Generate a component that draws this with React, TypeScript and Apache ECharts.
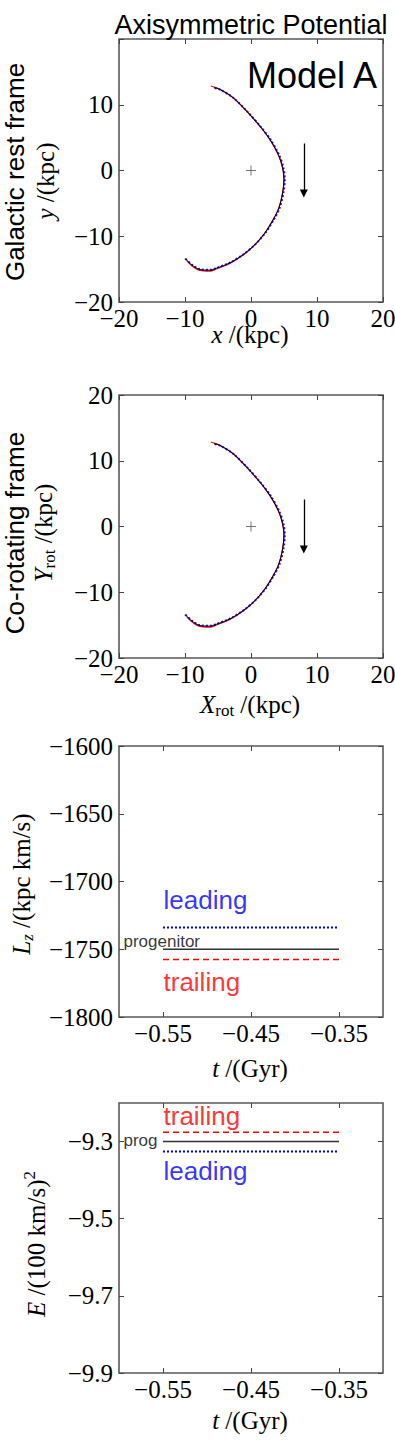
import React, { useEffect, useRef } from 'react';
import * as echarts from 'echarts';

// ---------- data ----------
// stream track in the x-y plane (kpc)
const orbitX = [-5.6, -4.7, -2.68, -0.65, 1.36, 2.88, 4.14, 4.8, 5.0, 4.8, 4.24, 3.38, 2.12, 0.61, -1.16, -3.18, -5.2, -6.21, -7.73, -8.99, -9.95];
const orbitY = [12.6, 12.32, 11.05, 9.02, 6.74, 4.71, 2.43, 0.41, -1.37, -3.39, -5.68, -7.45, -9.48, -11.25, -12.78, -14.04, -14.85, -15.16, -15.06, -14.35, -13.43];
const leadingX = [-5.5, -4.6, -2.6, -0.55, 1.45, 2.98, 4.25, 4.92, 5.12, 4.92, 4.35, 3.48, 2.2, 0.68, -1.1, -3.12, -5.15, -6.18, -7.7, -8.98, -10.0];
const leadingY = [12.55, 12.25, 10.98, 8.95, 6.68, 4.66, 2.4, 0.41, -1.37, -3.38, -5.66, -7.42, -9.45, -11.2, -12.72, -13.98, -14.8, -15.1, -15.02, -14.3, -13.35];
const trailingX = [-6.1, -4.7, -2.7, -0.66, 1.35, 2.87, 4.12, 4.78, 4.98, 4.78, 4.22, 3.36, 2.1, 0.58, -1.2, -3.22, -5.25, -6.25, -7.75, -8.95, -9.7];
const trailingY = [12.85, 12.35, 11.07, 9.03, 6.74, 4.7, 2.42, 0.4, -1.37, -3.39, -5.69, -7.47, -9.51, -11.3, -12.86, -14.14, -14.98, -15.3, -15.2, -14.5, -13.75];
const centreX = [0];
const centreY = [0];
const arrowX = [8, 8];
const arrowY = [4.1, -3.5];

// conserved quantities vs time
const tPoints = [-0.55, -0.45, -0.35];
const lzProgenitor = [-1750, -1750, -1750];
const lzLeading = [-1734, -1734, -1734];
const lzTrailing = [-1757.5, -1757.5, -1757.5];
const eProgenitor = [-9.3, -9.3, -9.3];
const eLeading = [-9.326, -9.326, -9.326];
const eTrailing = [-9.276, -9.276, -9.276];

// tick values
const xyTicks = [-20, -10, 0, 10, 20];
const y1Labels = [-20, -10, 0, 10];
const tTicks = [-0.55, -0.45, -0.35];
const lzTicks = [-1800, -1750, -1700, -1650, -1600];
const eTicks = [-9.9, -9.7, -9.5, -9.3];

// annotation texts
const lzNotes = [
  { text: 'leading', t: -0.55, v: -1714, color: '#0000ff', size: 26 },
  { text: 'progenitor', t: -0.5955, v: -1744.6, color: '#000000', size: 17 },
  { text: 'trailing', t: -0.55, v: -1774.2, color: '#ff0000', size: 26 },
];
const eNotes = [
  { text: 'trailing', t: -0.55, v: -9.234, color: '#ff0000', size: 26 },
  { text: 'prog', t: -0.5955, v: -9.2985, color: '#000000', size: 17 },
  { text: 'leading', t: -0.55, v: -9.3755, color: '#0000ff', size: 26 },
];

// ---------- styling ----------
const serif = 'Liberation Serif';
const sans = 'Liberation Sans';
const minus = (s: string) => s.replace('-', '\u2212');
const zip = (a: number[], b: number[]) => a.map((v, i) => [v, b[i]]);

function axisPair(kind: 'x' | 'y', grid: number, min: number, max: number, ticks: number[], labels: number[], fmt: (v: number) => string) {
  const base: any = {
    type: 'value', gridIndex: grid, min, max,
    axisLine: { show: false, onZero: false },
    splitLine: { show: false },
    axisTick: { show: true, inside: true, length: 5, lineStyle: { color: '#444', width: 1 }, customValues: ticks },
  };
  const main = {
    ...base,
    position: kind === 'x' ? 'bottom' : 'left',
    axisLabel: {
      show: true, customValues: labels, formatter: (v: number) => fmt(v),
      margin: kind === 'x' ? 4 : 6, fontFamily: serif, fontSize: 25, color: '#000',
    },
  };
  const mirror = { ...base, position: kind === 'x' ? 'top' : 'right', axisLabel: { show: false } };
  return [main, mirror];
}

const fmtInt = (v: number) => minus(String(Math.round(v)));
const fmt2 = (v: number) => minus(v.toFixed(2));
const fmt1 = (v: number) => minus(v.toFixed(1));

const rich: any = {
  i: { fontFamily: serif, fontStyle: 'italic', fontSize: 25, lineHeight: 30 },
  r: { fontFamily: serif, fontSize: 25, lineHeight: 30 },
  sub: { fontFamily: serif, fontSize: 17, lineHeight: 18, verticalAlign: 'bottom' },
  isub: { fontFamily: serif, fontStyle: 'italic', fontSize: 17, lineHeight: 18, verticalAlign: 'bottom' },
  sup: { fontFamily: serif, fontSize: 17, lineHeight: 18, verticalAlign: 'top' },
};

function label(text: string, x: number, y: number, vertical: boolean, font = serif, size = 25, align = 'center') {
  return {
    type: 'text', x, y, rotation: vertical ? Math.PI / 2 : 0, silent: true,
    style: { text, rich, fontFamily: font, fontSize: size, fill: '#000', align, verticalAlign: 'middle', lineHeight: 30 },
  };
}

function streamSeries(ax: number) {
  return [
    { type: 'line', xAxisIndex: ax, yAxisIndex: ax, data: zip(trailingX, trailingY), smooth: 0.3, symbol: 'none', silent: true, lineStyle: { color: '#ff0000', width: 1.2 } },
    { type: 'line', xAxisIndex: ax, yAxisIndex: ax, data: zip(leadingX, leadingY), smooth: 0.3, symbol: 'none', silent: true, lineStyle: { color: '#1a1aff', width: 2, type: 'dotted' } },
    { type: 'line', xAxisIndex: ax, yAxisIndex: ax, data: zip(orbitX, orbitY), smooth: 0.3, symbol: 'none', silent: true, lineStyle: { color: '#000', width: 1 } },
    {
      type: 'scatter', xAxisIndex: ax, yAxisIndex: ax, data: zip(centreX, centreY), silent: true,
      symbol: 'path://M5,0L5,10M0,5L10,5', symbolSize: 10,
      itemStyle: { color: 'rgba(0,0,0,0)', borderColor: '#555', borderWidth: 1 },
    },
    {
      type: 'lines', coordinateSystem: 'cartesian2d', xAxisIndex: ax, yAxisIndex: ax, silent: true,
      symbol: ['none', 'triangle'], symbolSize: [0, 8],
      lineStyle: { color: '#000', width: 1.3, opacity: 1 },
      data: [{ coords: zip(arrowX, arrowY) }],
    },
  ];
}

function flatSeries(ax: number, prog: number[], lead: number[], trail: number[], notes: any[]) {
  const s: any[] = [
    { type: 'line', xAxisIndex: ax, yAxisIndex: ax, data: zip(tPoints, lead), symbol: 'none', silent: true, lineStyle: { color: '#0000ff', width: 2, type: 'dotted' } },
    { type: 'line', xAxisIndex: ax, yAxisIndex: ax, data: zip(tPoints, prog), symbol: 'none', silent: true, lineStyle: { color: '#333', width: 1.5 } },
    { type: 'line', xAxisIndex: ax, yAxisIndex: ax, data: zip(tPoints, trail), symbol: 'none', silent: true, lineStyle: { color: '#ff0000', width: 1.5, type: [6, 4] } },
  ];
  notes.forEach((n) => {
    s.push({
      type: 'scatter', xAxisIndex: ax, yAxisIndex: ax, data: [[n.t, n.v]], silent: true,
      symbolSize: 1, itemStyle: { color: 'rgba(0,0,0,0)' },
      label: { show: true, position: 'right', distance: 0, formatter: n.text, color: n.color, fontSize: n.size, fontFamily: sans },
    });
  });
  return s;
}

const grids = [
  { left: 119, top: 39, width: 264, height: 263 },
  { left: 119, top: 395, width: 264, height: 263 },
  { left: 119, top: 746, width: 264, height: 271 },
  { left: 119, top: 1103, width: 264, height: 270 },
].map((g) => ({ ...g, show: true, borderColor: '#5a5a5a', borderWidth: 1.6, backgroundColor: '#fff', containLabel: false, outerBoundsMode: 'none' }));

const xAxis = [
  ...axisPair('x', 0, -20, 20, xyTicks, xyTicks, fmtInt),
  ...axisPair('x', 1, -20, 20, xyTicks, xyTicks, fmtInt),
  ...axisPair('x', 2, -0.6, -0.3, tTicks, tTicks, fmt2),
  ...axisPair('x', 3, -0.6, -0.3, tTicks, tTicks, fmt2),
];
const yAxis = [
  ...axisPair('y', 0, -20, 20, xyTicks, y1Labels, fmtInt),
  ...axisPair('y', 1, -20, 20, xyTicks, xyTicks, fmtInt),
  ...axisPair('y', 2, -1800, -1600, lzTicks, lzTicks, fmtInt),
  ...axisPair('y', 3, -9.9, -9.2, eTicks, eTicks, fmt1),
];

const option: any = {
  animation: false,
  backgroundColor: '#fff',
  grid: grids,
  xAxis,
  yAxis,
  series: [
    ...streamSeries(0),
    ...streamSeries(2),
    ...flatSeries(4, lzProgenitor, lzLeading, lzTrailing, lzNotes),
    ...flatSeries(6, eProgenitor, eLeading, eTrailing, eNotes),
  ],
  graphic: [
    label('Axisymmetric Potential', 251, 24.5, false, sans, 27),
    label('Model A', 377, 75, false, sans, 36, 'right'),
    label('Galactic rest frame', 15, 172, true, sans, 26),
    label('{i|y}{r| /(kpc)}', 45, 181, true),
    label('{i|x}{r| /(kpc)}', 250, 334, false),
    label('Co-rotating frame', 15, 533, true, sans, 26),
    label('{i|Y}{sub|rot}{r| /(kpc)}', 43, 533, true),
    label('{i|X}{sub|rot}{r| /(kpc)}', 250, 704, false),
    label('{i|L}{isub|z}{r| /(kpc km/s)}', 21, 884, true),
    label('{i|t}{r| /(Gyr)}', 250, 1068, false),
    label('{i|E}{r| /(100 km/s)}{sup|2}', 36, 1244, true),
    label('{i|t}{r| /(Gyr)}', 250, 1420, false),
  ],
};

export default function App() {
  const ref = useRef<HTMLDivElement>(null);
  useEffect(() => {
    const chart = echarts.init(ref.current!, null, { renderer: 'svg' });
    chart.setOption(option);
    return () => chart.dispose();
  }, []);
  return <div ref={ref} style={{ position: 'absolute', left: 0, top: 0, width: 395, height: 1446, background: '#fff' }} />;
}
